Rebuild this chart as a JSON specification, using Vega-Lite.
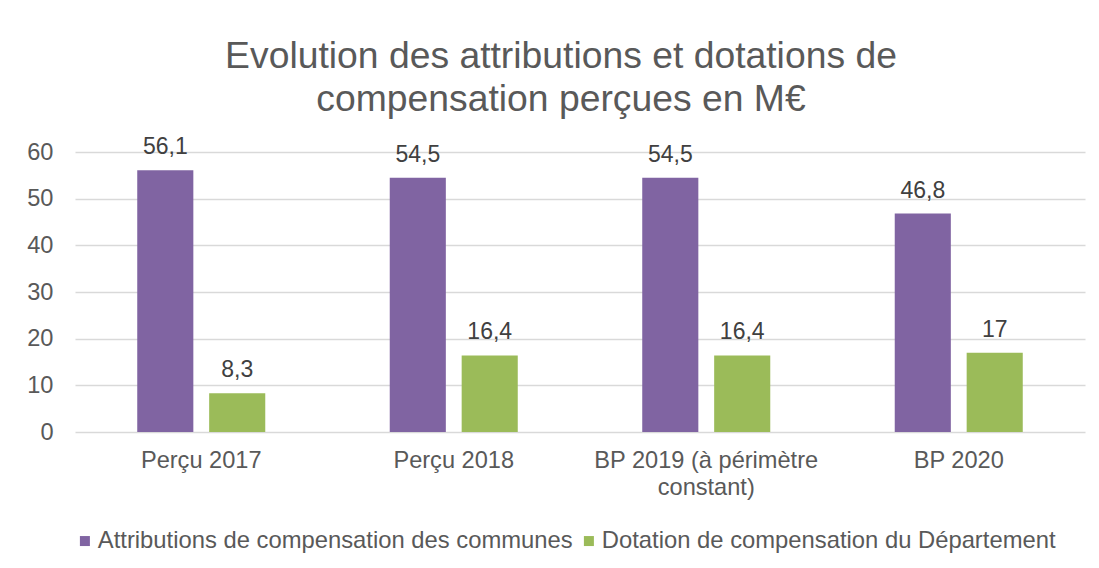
{
  "$schema": "https://vega.github.io/schema/vega-lite/v6.json",
  "width": 1010,
  "height": 280,
  "autosize": {"type": "none"},
  "padding": {"left": 75, "top": 152, "right": 14, "bottom": 136},
  "background": "white",
  "config": {
    "locale": {"number": {"decimal": ",", "thousands": " ", "grouping": [3], "currency": ["", " €"]}},
    "font": "Liberation Sans",
    "view": {"stroke": null}
  },
  "title": {
    "text": ["Evolution des attributions et dotations de", "compensation perçues en M€"],
    "fontSize": 37.3,
    "font": "Liberation Sans",
    "fontWeight": "normal",
    "color": "#595959",
    "anchor": "middle",
    "frame": "group",
    "dx": -19,
    "lineHeight": 43,
    "offset": 17
  },
  "data": {
    "values": [
      {"cat": "Perçu 2017", "serie": "Attributions de compensation des communes", "val": 56.1},
      {"cat": "Perçu 2017", "serie": "Dotation de compensation du Département", "val": 8.3},
      {"cat": "Perçu 2018", "serie": "Attributions de compensation des communes", "val": 54.5},
      {"cat": "Perçu 2018", "serie": "Dotation de compensation du Département", "val": 16.4},
      {"cat": "BP 2019 (à périmètre constant)", "serie": "Attributions de compensation des communes", "val": 54.5},
      {"cat": "BP 2019 (à périmètre constant)", "serie": "Dotation de compensation du Département", "val": 16.4},
      {"cat": "BP 2020", "serie": "Attributions de compensation des communes", "val": 46.8},
      {"cat": "BP 2020", "serie": "Dotation de compensation du Département", "val": 17}
    ]
  },
  "encoding": {
    "x": {
      "field": "cat",
      "type": "nominal",
      "sort": null,
      "scale": {"paddingInner": 0.493, "paddingOuter": 0.2465},
      "axis": {
        "title": null,
        "domain": false,
        "ticks": false,
        "labelAngle": 0,
        "labelFontSize": 23.6,
        "labelColor": "#595959",
        "labelPadding": 16,
        "labelLineHeight": 27,
        "labelLimit": 400,
        "labelExpr": "datum.value == 'BP 2019 (à périmètre constant)' ? ['BP 2019 (à périmètre', 'constant)'] : datum.value"
      }
    },
    "xOffset": {
      "field": "serie",
      "type": "nominal",
      "sort": null,
      "scale": {"paddingInner": 0.22, "paddingOuter": 0}
    },
    "y": {
      "field": "val",
      "type": "quantitative",
      "scale": {"domain": [0, 60], "nice": false},
      "axis": {
        "title": null,
        "values": [0, 10, 20, 30, 40, 50, 60],
        "domain": false,
        "ticks": false,
        "grid": true,
        "gridColor": "#d9d9d9",
        "gridWidth": 1.5,
        "labelFontSize": 23.6,
        "labelColor": "#595959",
        "labelPadding": 22
      }
    }
  },
  "layer": [
    {
      "mark": {"type": "bar"},
      "encoding": {
        "color": {
          "field": "serie",
          "type": "nominal",
          "sort": null,
          "scale": {"range": ["#8064A2", "#9BBB59"]},
          "legend": {
            "title": null,
            "orient": "none",
            "legendX": -2,
            "legendY": 377,
            "direction": "horizontal",
            "symbolType": "square",
            "symbolSize": 100,
            "symbolStrokeWidth": 0,
            "symbolOpacity": 1,
            "labelFontSize": 23.8,
            "labelColor": "#595959",
            "labelLimit": 1000,
            "labelOffset": 1,
            "columnPadding": 4
          }
        }
      }
    },
    {
      "mark": {"type": "text", "dy": -16, "baseline": "alphabetic", "fontSize": 23, "color": "#404040"},
      "encoding": {
        "text": {"field": "val", "type": "quantitative", "format": "~g"}
      }
    }
  ]
}
